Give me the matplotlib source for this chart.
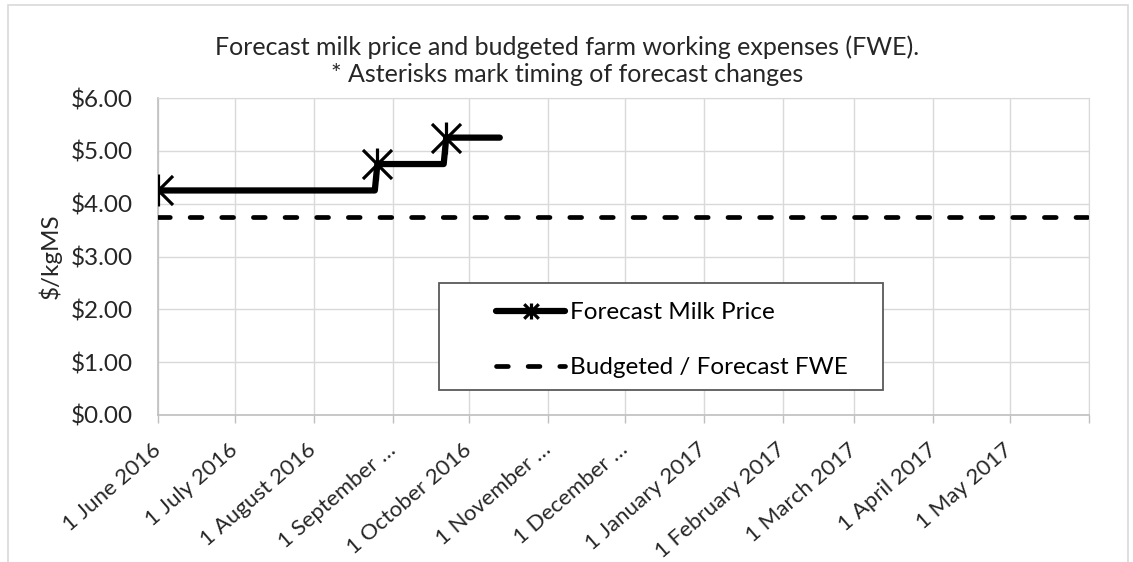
import datetime as dt
import matplotlib
matplotlib.use('Agg')
import matplotlib.pyplot as plt
from matplotlib.path import Path
from matplotlib.patches import Rectangle

# forecast milk price (step series), markers where the forecast changed
price_dates = [dt.date(2016, 6, 1), dt.date(2016, 8, 25), dt.date(2016, 8, 26),
               dt.date(2016, 9, 21), dt.date(2016, 9, 22), dt.date(2016, 10, 13)]
price_values = [4.25, 4.25, 4.75, 4.75, 5.25, 5.25]
change_points = [0, 2, 4]

# budgeted farm working expenses
fwe_dates = [dt.date(2016, 6, 1), dt.date(2017, 6, 1)]
fwe_values = [3.75, 3.75]

tick_dates = [dt.date(2016, m, 1) for m in range(6, 13)] + \
             [dt.date(2017, m, 1) for m in range(1, 7)]
tick_labels = ['1 June 2016', '1 July 2016', '1 August 2016', '1 September …',
               '1 October 2016', '1 November …', '1 December …', '1 January 2017',
               '1 February 2017', '1 March 2017', '1 April 2017', '1 May 2017', '']
y_ticks = [0, 1, 2, 3, 4, 5, 6]

plt.rcParams['font.family'] = ['Lato', 'DejaVu Sans']
txt = '#262626'
fs = 17.5

W, H = 1133, 562
fig = plt.figure(figsize=(W / 100, H / 100), dpi=100)
ax = fig.add_axes([158 / W, 1 - 415 / H, (1089 - 158) / W, (415 - 98) / H])

# excel style asterisk: X plus a vertical bar
star = Path([(-1, -1), (1, 1), (-1, 1), (1, -1), (0, -1.1), (0, 1.1)],
            [Path.MOVETO, Path.LINETO, Path.MOVETO, Path.LINETO, Path.MOVETO, Path.LINETO])

ax.plot(price_dates, price_values, color='black', lw=4.5, solid_capstyle='round',
        solid_joinstyle='round', marker=star, markevery=change_points, markersize=23,
        markeredgewidth=2.3, markerfacecolor='none', markeredgecolor='black',
        label='Forecast Milk Price', zorder=3)
ax.plot(fwe_dates, fwe_values, color='black', lw=3.4, dashes=(2.5, 4.2),
        dash_capstyle='round', label='Budgeted / Forecast FWE', zorder=3)

ax.set_xlim(fwe_dates[0], fwe_dates[-1])
ax.set_ylim(0, 6)
ax.set_xticks(tick_dates)
ax.set_xticklabels(tick_labels, rotation=41, ha='right', va='center',
                   rotation_mode='anchor', fontsize=16, color=txt)
ax.set_yticks(y_ticks)
ax.set_yticklabels(['${:.2f}'.format(v) for v in y_ticks], fontsize=fs, color=txt)
ax.tick_params(axis='x', length=6, width=1, color='#bfbfbf', pad=17)
ax.tick_params(axis='y', length=0, pad=18)

ax.grid(True, color='#d9d9d9', lw=1)
ax.set_axisbelow(True)
for s in ['top', 'right']:
    ax.spines[s].set_color('#d9d9d9')
for s in ['left', 'bottom']:
    ax.spines[s].set_color('#bfbfbf')
    ax.spines[s].set_linewidth(1.2)

fig.text(50 / W, 1 - 256 / H, '$/kgMS', rotation=90, ha='center', va='center',
         fontsize=fs, color=txt)

fig.text(567 / W, 1 - 47 / H, 'Forecast milk price and budgeted farm working expenses (FWE).',
         ha='center', va='center', fontsize=18, color=txt)
fig.text(567 / W, 1 - 74 / H, '* Asterisks mark timing of forecast changes',
         ha='center', va='center', fontsize=18, color=txt)

# legend entries without frame, frame drawn as its own box
leg = ax.legend(loc='upper left', bbox_to_anchor=(496 / W, 1 - 302 / H),
                bbox_transform=fig.transFigure, fontsize=fs, frameon=False,
                handlelength=2.85, handletextpad=0.2, labelspacing=1.4,
                borderpad=0, borderaxespad=0, markerscale=0.5)
leg.set_zorder(5)
ax.add_patch(Rectangle((439 / W, 1 - 390 / H), (883 - 439) / W, (390 - 283) / H,
                       transform=fig.transFigure, facecolor='white', clip_on=False,
                       edgecolor='#595959', lw=1.3, zorder=4))

# outer chart area border
fig.patches.append(Rectangle((8 / W, -0.1), (1128 - 8) / W, 1.1 - 5 / H,
                             transform=fig.transFigure, fill=False,
                             edgecolor='#d9d9d9', lw=1.2))

fig.savefig('out.png', dpi=100)
